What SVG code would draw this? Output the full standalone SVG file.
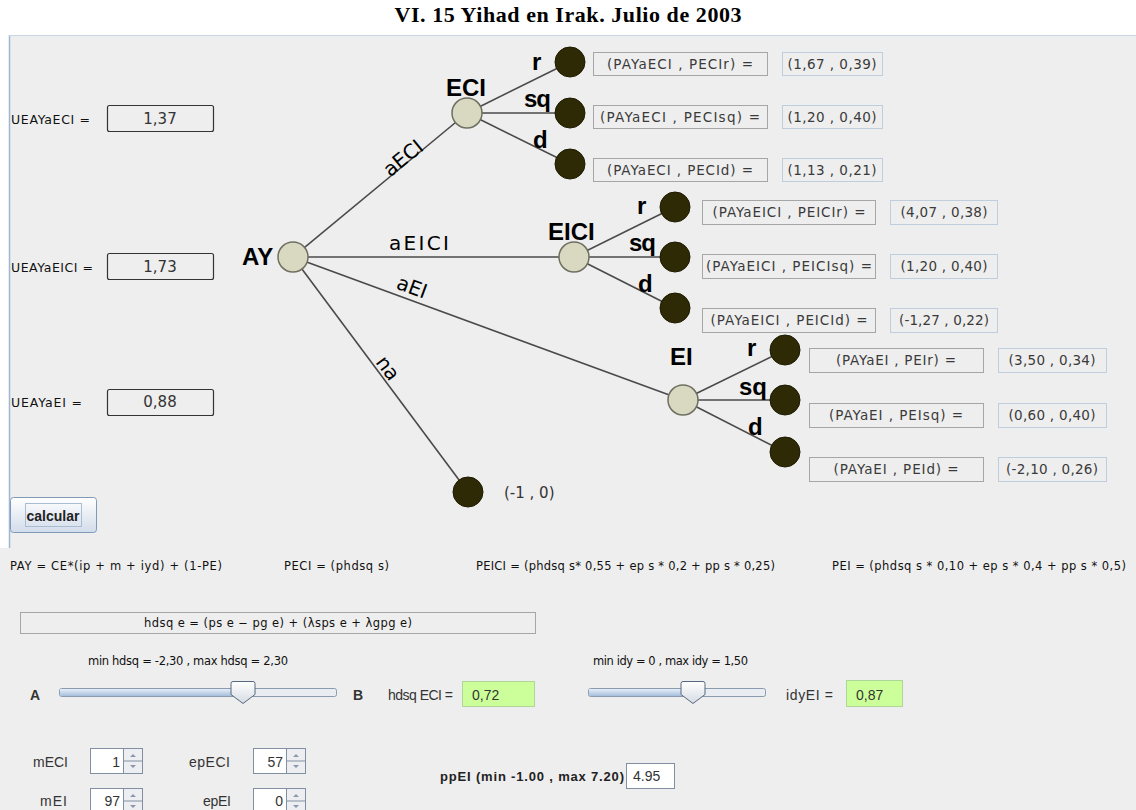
<svg xmlns="http://www.w3.org/2000/svg" width="1136" height="810" viewBox="0 0 1136 810">
<defs>
<linearGradient id="btn" x1="0" y1="0" x2="0" y2="1"><stop offset="0" stop-color="#ffffff"/><stop offset="1" stop-color="#d2dcea"/></linearGradient>
<linearGradient id="trk" x1="0" y1="0" x2="0" y2="1"><stop offset="0" stop-color="#e6eef8"/><stop offset="1" stop-color="#a6bfdc"/></linearGradient>
<linearGradient id="thm" x1="0" y1="0" x2="0" y2="1"><stop offset="0" stop-color="#ffffff"/><stop offset="1" stop-color="#d5dbe3"/></linearGradient>
</defs>
<style>
text{font-family:"Liberation Sans",Arial,sans-serif}
.nl{font-weight:bold;font-size:24px;fill:#000}
.bl{font-weight:bold;font-size:24px;fill:#000}
.el{font-family:"DejaVu Sans",sans-serif;font-size:20px;fill:#000}
.bx{font-family:"DejaVu Sans",sans-serif;font-size:13.5px;fill:#3a3a3a}
.sm{font-family:"DejaVu Sans",sans-serif;font-size:11.5px;fill:#111}
.ul{font-family:"DejaVu Sans",sans-serif;font-size:12.5px;fill:#111}
.md{font-size:14px;fill:#333}
.vv{font-family:"DejaVu Sans",sans-serif;font-size:15px;fill:#333}
.nb{fill:#eeeeee;stroke:#a6a6a6;stroke-width:1}
.vb{fill:#eeeeee;stroke:#bfcddc;stroke-width:1}
.lt{fill:#d9d9c1;stroke:#6f6f60;stroke-width:1.5}
.dk{fill:#2e2a06;stroke:#1c1a00;stroke-width:1}
.ub{fill:none;stroke:#333;stroke-width:1.2}
.fld{fill:#ffffff;stroke:#8090a2;stroke-width:1}
.arr{fill:#eceef2;stroke:#8090a2;stroke-width:1}
.tri{fill:#8a98a8}
.grn{fill:#ccff99;stroke:#aed69a;stroke-width:1}
#connectors line{stroke:#4a4a4a;stroke-width:1.6}
</style>
<rect x="0" y="0" width="1136" height="810" fill="#ffffff"/>
<rect x="0" y="35" width="1136" height="775" fill="#eeeeee"/>
<rect x="0" y="35" width="9" height="513" fill="#ffffff"/>
<line x1="9.5" y1="35" x2="9.5" y2="548" stroke="#9fb6d6" stroke-width="1.5"/>
<line x1="9" y1="35.5" x2="1136" y2="35.5" stroke="#c9d6e6" stroke-width="1"/>

<text x="568" y="22" text-anchor="middle" font-weight="bold" font-size="22" textLength="347" style="font-family:'Liberation Serif','Times New Roman',serif">VI. 15 Yihad en Irak. Julio de 2003</text>

<g id="utilities">
<text class="ul" x="11" y="124" textLength="79">UEAYaECI =</text>
<rect class="ub" x="107.5" y="105.5" width="106" height="26" rx="2"/>
<text class="vv" x="160" y="124" text-anchor="middle">1,37</text>
<text class="ul" x="11" y="272" textLength="82">UEAYaEICI =</text>
<rect class="ub" x="107.5" y="253.5" width="106" height="26" rx="2"/>
<text class="vv" x="160" y="272" text-anchor="middle">1,73</text>
<text class="ul" x="11" y="407" textLength="71">UEAYaEI =</text>
<rect class="ub" x="107.5" y="389.5" width="106" height="26" rx="2"/>
<text class="vv" x="160" y="407" text-anchor="middle">0,88</text>
</g>

<g id="connectors">
<line x1="293" y1="257" x2="467" y2="113"/>
<line x1="293" y1="257" x2="574" y2="257"/>
<line x1="293" y1="257" x2="683" y2="400"/>
<line x1="293" y1="257" x2="468" y2="492"/>
<line x1="467" y1="113" x2="570" y2="62"/>
<line x1="467" y1="113" x2="570" y2="113"/>
<line x1="467" y1="113" x2="570" y2="164"/>
<line x1="574" y1="257" x2="675" y2="207"/>
<line x1="574" y1="257" x2="675" y2="257"/>
<line x1="574" y1="257" x2="675" y2="308"/>
<line x1="683" y1="400" x2="785" y2="350"/>
<line x1="683" y1="400" x2="785" y2="400"/>
<line x1="683" y1="400" x2="785" y2="452"/>
<text class="el" transform="translate(403,158) rotate(-39.4)" x="0" y="7" text-anchor="middle" font-size="21">aECI</text>
<text class="el" x="419" y="250" text-anchor="middle" font-size="21" textLength="60">aEICI</text>
<text class="el" transform="translate(412,287) rotate(20.1)" x="0" y="7" text-anchor="middle">aEI</text>
<text class="el" transform="translate(388,368) rotate(53.3)" x="0" y="7" text-anchor="middle">na</text>
<text class="bl" x="532" y="70">r</text>
<text class="bl" x="524" y="107" textLength="27">sq</text>
<text class="bl" x="533" y="148">d</text>
<text class="bl" x="637" y="214">r</text>
<text class="bl" x="629" y="251" textLength="27">sq</text>
<text class="bl" x="638" y="292">d</text>
<text class="bl" x="747" y="356">r</text>
<text class="bl" x="739" y="395" textLength="28">sq</text>
<text class="bl" x="748" y="435">d</text>
</g>

<g id="node-AY">
<circle class="lt" cx="293" cy="257" r="15"/>
<text class="nl" x="242" y="265">AY</text>
</g>
<g id="node-ECI">
<circle class="lt" cx="467" cy="113" r="15"/>
<text class="nl" x="446" y="96">ECI</text>
</g>
<g id="node-EICI">
<circle class="lt" cx="574" cy="257" r="15"/>
<text class="nl" x="548" y="240">EICI</text>
</g>
<g id="node-EI">
<circle class="lt" cx="683" cy="400" r="15"/>
<text class="nl" x="670" y="365">EI</text>
</g>
<g id="node-na">
<circle class="dk" cx="468" cy="492" r="15"/>
<text class="vv" x="504" y="498" font-size="14">(-1 , 0)</text>
</g>

<g id="node-ECI-r">
<circle class="dk" cx="570" cy="62" r="15"/>
<rect class="nb" x="593.5" y="52.5" width="174" height="23"/>
<text class="bx" x="680" y="69" text-anchor="middle" textLength="146">(PAYaECI , PECIr) =</text>
<rect class="vb" x="782.5" y="52.5" width="100" height="23"/>
<text class="bx" x="832" y="69" text-anchor="middle" textLength="89">(1,67 , 0,39)</text>
</g>
<g id="node-ECI-sq">
<circle class="dk" cx="570" cy="113" r="15"/>
<rect class="nb" x="593.5" y="105.5" width="174" height="23"/>
<text class="bx" x="680" y="122" text-anchor="middle" textLength="160">(PAYaECI , PECIsq) =</text>
<rect class="vb" x="782.5" y="105.5" width="100" height="23"/>
<text class="bx" x="832" y="122" text-anchor="middle" textLength="89">(1,20 , 0,40)</text>
</g>
<g id="node-ECI-d">
<circle class="dk" cx="570" cy="164" r="15"/>
<rect class="nb" x="593.5" y="158.5" width="174" height="23"/>
<text class="bx" x="680" y="175" text-anchor="middle" textLength="146">(PAYaECI , PECId) =</text>
<rect class="vb" x="782.5" y="158.5" width="100" height="23"/>
<text class="bx" x="832" y="175" text-anchor="middle" textLength="89">(1,13 , 0,21)</text>
</g>

<g id="node-EICI-r">
<circle class="dk" cx="675" cy="207" r="15"/>
<rect class="nb" x="702.5" y="200.5" width="173" height="24"/>
<text class="bx" x="789" y="217" text-anchor="middle" textLength="153">(PAYaEICI , PEICIr) =</text>
<rect class="vb" x="890.5" y="200.5" width="107" height="24"/>
<text class="bx" x="944" y="217" text-anchor="middle" textLength="87">(4,07 , 0,38)</text>
</g>
<g id="node-EICI-sq">
<circle class="dk" cx="675" cy="257" r="15"/>
<rect class="nb" x="702.5" y="254.5" width="173" height="24"/>
<text class="bx" x="789" y="271" text-anchor="middle" textLength="166">(PAYaEICI , PEICIsq) =</text>
<rect class="vb" x="890.5" y="254.5" width="107" height="24"/>
<text class="bx" x="944" y="271" text-anchor="middle" textLength="87">(1,20 , 0,40)</text>
</g>
<g id="node-EICI-d">
<circle class="dk" cx="675" cy="308" r="15"/>
<rect class="nb" x="702.5" y="308.5" width="173" height="24"/>
<text class="bx" x="789" y="325" text-anchor="middle" textLength="157">(PAYaEICI , PEICId) =</text>
<rect class="vb" x="890.5" y="308.5" width="107" height="24"/>
<text class="bx" x="944" y="325" text-anchor="middle" textLength="90">(-1,27 , 0,22)</text>
</g>

<g id="node-EI-r">
<circle class="dk" cx="785" cy="350" r="15"/>
<rect class="nb" x="809.5" y="348.5" width="174" height="24"/>
<text class="bx" x="896" y="365" text-anchor="middle" textLength="120">(PAYaEI , PEIr) =</text>
<rect class="vb" x="998.5" y="348.5" width="108" height="24"/>
<text class="bx" x="1052" y="365" text-anchor="middle" textLength="87">(3,50 , 0,34)</text>
</g>
<g id="node-EI-sq">
<circle class="dk" cx="785" cy="400" r="15"/>
<rect class="nb" x="809.5" y="403.5" width="174" height="24"/>
<text class="bx" x="896" y="420" text-anchor="middle" textLength="134">(PAYaEI , PEIsq) =</text>
<rect class="vb" x="998.5" y="403.5" width="108" height="24"/>
<text class="bx" x="1052" y="420" text-anchor="middle" textLength="87">(0,60 , 0,40)</text>
</g>
<g id="node-EI-d">
<circle class="dk" cx="785" cy="452" r="15"/>
<rect class="nb" x="809.5" y="457.5" width="174" height="24"/>
<text class="bx" x="896" y="474" text-anchor="middle" textLength="125">(PAYaEI , PEId) =</text>
<rect class="vb" x="998.5" y="457.5" width="108" height="24"/>
<text class="bx" x="1052" y="474" text-anchor="middle" textLength="92">(-2,10 , 0,26)</text>
</g>

<g id="button-calcular">
<rect x="10.5" y="497.5" width="86" height="35" rx="3" fill="url(#btn)" stroke="#7f99b8"/>
<rect x="25.5" y="503.5" width="56" height="23" fill="none" stroke="#a9bcd2"/>
<text x="53" y="521" text-anchor="middle" font-weight="bold" font-size="14" fill="#222">calcular</text>
</g>

<g id="formulas">
<text class="sm" x="10" y="570" textLength="212">PAY = CE*(ip + m + iyd) + (1-PE)</text>
<text class="sm" x="284" y="570" textLength="105">PECI = (phdsq s)</text>
<text class="sm" x="476" y="570" textLength="299">PEICI = (phdsq s* 0,55 + ep s * 0,2 + pp s * 0,25)</text>
<text class="sm" x="832" y="570" textLength="294">PEI = (phdsq s * 0,10 + ep s * 0,4 + pp s * 0,5)</text>
</g>

<g id="hdsq-formula">
<rect x="20.5" y="612.5" width="515" height="21" fill="#eeeeee" stroke="#a6a6a6"/>
<text class="sm" x="278" y="627" text-anchor="middle" textLength="268">hdsq e = (ps e − pg e)  + (λsps e + λgpg e)</text>
</g>

<g id="slider-hdsq">
<text class="sm" x="88" y="665" textLength="200">min hdsq = -2,30 , max hdsq = 2,30</text>
<text x="30" y="700" font-weight="bold" font-size="14" fill="#333">A</text>
<rect x="59.5" y="688.5" width="277" height="8" rx="2" fill="#e9ecf0" stroke="#8a9bb0"/>
<rect x="60" y="689" width="183" height="7" fill="url(#trk)"/>
<path d="M233,681.5 h20 q2,0 2,2 v11 l-12,9 l-12,-9 v-11 q0,-2 2,-2 z" fill="url(#thm)" stroke="#56687e"/>
<text x="353" y="700" font-weight="bold" font-size="14" fill="#333">B</text>
<text class="md" x="388" y="700" textLength="65">hdsq ECI =</text>
<rect class="grn" x="462.5" y="681.5" width="72" height="25"/>
<text class="md" x="472" y="700">0,72</text>
</g>

<g id="slider-idy">
<text class="sm" x="593" y="665" textLength="155">min idy = 0 , max idy = 1,50</text>
<rect x="588.5" y="688.5" width="177" height="8" rx="2" fill="#e9ecf0" stroke="#8a9bb0"/>
<rect x="589" y="689" width="104" height="7" fill="url(#trk)"/>
<path d="M683,681.5 h20 q2,0 2,2 v11 l-12,9 l-12,-9 v-11 q0,-2 2,-2 z" fill="url(#thm)" stroke="#56687e"/>
<text class="md" x="786" y="700" textLength="47">idyEI =</text>
<rect class="grn" x="846.5" y="680.5" width="56" height="26"/>
<text class="md" x="856" y="700">0,87</text>
</g>

<g id="spinner-mECI">
<text class="md" x="33" y="767" textLength="35">mECI</text>
<rect class="fld" x="90.5" y="748.5" width="33" height="25"/>
<rect class="arr" x="123.5" y="748.5" width="19" height="25"/>
<line x1="123.5" y1="761" x2="142.5" y2="761" stroke="#8090a2"/>
<path class="tri" d="M130,757 l3,-3 l3,3 z M130,765 l3,3 l3,-3 z"/>
<text class="md" x="120" y="767" text-anchor="end">1</text>
</g>
<g id="spinner-epECI">
<text class="md" x="189" y="767" textLength="41">epECI</text>
<rect class="fld" x="253.5" y="748.5" width="33" height="25"/>
<rect class="arr" x="286.5" y="748.5" width="19" height="25"/>
<line x1="286.5" y1="761" x2="305.5" y2="761" stroke="#8090a2"/>
<path class="tri" d="M293,757 l3,-3 l3,3 z M293,765 l3,3 l3,-3 z"/>
<text class="md" x="283" y="767" text-anchor="end">57</text>
</g>
<g id="spinner-mEI">
<text class="md" x="40" y="806" textLength="27">mEI</text>
<rect class="fld" x="90.5" y="788.5" width="33" height="25"/>
<rect class="arr" x="123.5" y="788.5" width="19" height="25"/>
<line x1="123.5" y1="801" x2="142.5" y2="801" stroke="#8090a2"/>
<path class="tri" d="M130,797 l3,-3 l3,3 z M130,805 l3,3 l3,-3 z"/>
<text class="md" x="120" y="806" text-anchor="end">97</text>
</g>
<g id="spinner-epEI">
<text class="md" x="203" y="806" textLength="28">epEI</text>
<rect class="fld" x="253.5" y="788.5" width="33" height="25"/>
<rect class="arr" x="286.5" y="788.5" width="19" height="25"/>
<line x1="286.5" y1="801" x2="305.5" y2="801" stroke="#8090a2"/>
<path class="tri" d="M293,797 l3,-3 l3,3 z M293,805 l3,3 l3,-3 z"/>
<text class="md" x="283" y="806" text-anchor="end">0</text>
</g>

<g id="ppEI">
<text x="440" y="781" font-weight="bold" font-size="13" fill="#222" textLength="184">ppEI (min -1.00 , max 7.20)</text>
<rect class="fld" x="626.5" y="763.5" width="48" height="25"/>
<text class="md" x="633" y="781" font-size="13">4.95</text>
</g>
</svg>
